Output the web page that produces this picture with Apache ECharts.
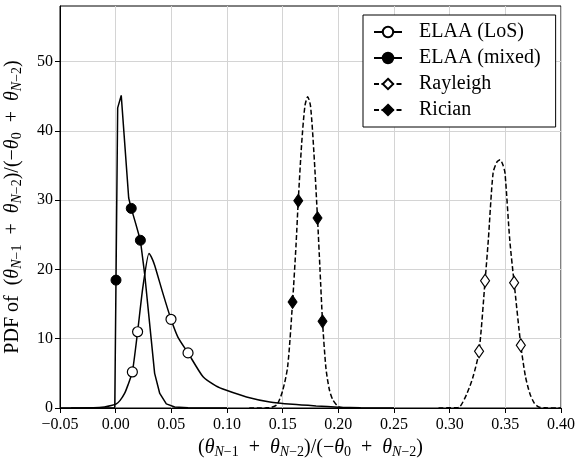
<!DOCTYPE html>
<html><head><meta charset="utf-8">
<script src="https://cdn.jsdelivr.net/npm/echarts@6/dist/echarts.min.js"></script>
<style>html,body{margin:0;padding:0;background:#fff}#c{width:577px;height:461px}</style>
</head><body><div id="c"></div>
<script>
const seriesNames = ['ELAA (LoS)', 'ELAA (mixed)', 'Rayleigh', 'Rician'];

const losX = [-0.04, -0.02, -0.01, -0.004, 0.0006, 0.004, 0.008, 0.011, 0.015, 0.0197, 0.0245, 0.0299, 0.032, 0.035, 0.0425, 0.0497, 0.056, 0.065, 0.0785, 0.09, 0.0995, 0.1175, 0.1385, 0.159, 0.18, 0.20, 0.22, 0.25];
const losY = [0, 0.03, 0.15, 0.35, 0.6, 1.1, 2.1, 3.3, 5.2, 11.0, 17.5, 22.3, 21.8, 20.6, 16.5, 12.8, 10.2, 7.95, 4.5, 3.2, 2.56, 1.6, 0.87, 0.53, 0.3, 0.12, 0.03, 0];
const losMarkers = [8, 9, 15, 17];

const mixX = [-0.05, -0.0008, 0.0003, 0.0018, 0.005, 0.0117, 0.014, 0.018, 0.0222, 0.026, 0.029, 0.032, 0.035, 0.0396, 0.0455, 0.053, 0.065, 0.10];
const mixY = [0, 0, 18.45, 43.3, 45.1, 30.3, 28.8, 26.6, 24.2, 19.4, 14.6, 9.8, 5.0, 2.1, 0.6, 0.15, 0.02, 0];
const mixMarkers = [2, 6, 8];

const rayX = [0.29, 0.305, 0.309, 0.3153, 0.321, 0.3264, 0.3318, 0.3347, 0.339, 0.3425, 0.3453, 0.348, 0.3497, 0.354, 0.3579, 0.3639, 0.368, 0.372, 0.376, 0.380, 0.386, 0.40];
const rayY = [0, 0.05, 0.15, 2.0, 4.5, 8.2, 18.35, 24.2, 33.9, 35.5, 35.8, 35.0, 33.9, 24.2, 18.06, 9.06, 4.6, 2.1, 0.7, 0.15, 0.02, 0];
const rayMarkers = [5, 6, 14, 15];

const ricX = [0.12, 0.135, 0.14, 0.145, 0.15, 0.1545, 0.1589, 0.162, 0.164, 0.167, 0.17, 0.1725, 0.175, 0.178, 0.1813, 0.1835, 0.1858, 0.1889, 0.192, 0.195, 0.2, 0.205, 0.22];
const ricY = [0, 0.02, 0.1, 0.5, 2.5, 6.0, 15.3, 23.5, 29.9, 38.0, 43.6, 44.9, 43.6, 37.0, 27.4, 20.1, 12.5, 5.7, 2.6, 1.2, 0.2, 0.03, 0];
const ricMarkers = [6, 8, 14, 16];

const xTickValues = [-0.05, 0.00, 0.05, 0.10, 0.15, 0.20, 0.25, 0.30, 0.35, 0.40];
const xTickLabels = ['−0.05', '0.00', '0.05', '0.10', '0.15', '0.20', '0.25', '0.30', '0.35', '0.40'];
const yTickValues = [0, 10, 20, 30, 40, 50];
const yTickLabels = ['0', '10', '20', '30', '40', '50'];

const FONT = 'Liberation Serif';

function build(xs, ys, marks) {
  return xs.map((x, i) => marks.includes(i) ? { value: [x, ys[i]] } : { value: [x, ys[i]], symbol: 'none' });
}
function lookup(vals, labels) {
  return v => { for (let i = 0; i < vals.length; i++) if (Math.abs(vals[i] - v) < 1e-6) return labels[i]; return ''; };
}

const expr = '{r|(}{i|θ}{si|N}{s|−1}{r|\u2002+\u2002}{i|θ}{si|N}{s|−2}{r|)/(−}{i|θ}{s|0}{r|\u2002+\u2002}{i|θ}{si|N}{s|−2}{r|)}';
const rich = {
  r: { fontFamily: FONT, fontSize: 20, lineHeight: 23, color: '#000' },
  i: { fontFamily: FONT, fontSize: 20, lineHeight: 23, fontStyle: 'italic', color: '#000' },
  s: { fontFamily: FONT, fontSize: 14, lineHeight: 9, verticalAlign: 'bottom', color: '#000' },
  si: { fontFamily: FONT, fontSize: 14, lineHeight: 9, verticalAlign: 'bottom', fontStyle: 'italic', color: '#000' }
};

const chart = echarts.init(document.getElementById('c'), null, { renderer: 'canvas' });
const lineW = 1.5;
chart.setOption({
  animation: false,
  backgroundColor: '#fff',
  grid: { left: 60, right: 16, top: 6, bottom: 53, show: true, borderColor: '#000', borderWidth: 1, backgroundColor: 'transparent', outerBoundsMode: 'none', containLabel: false },
  legend: {
    data: seriesNames,
    orient: 'vertical', left: 363, top: 15,
    backgroundColor: '#fff', borderColor: '#000', borderWidth: 1, borderRadius: 0,
    padding: [6, 15, 6, 10], itemGap: 4, itemWidth: 28, itemHeight: 13,
    textStyle: { fontFamily: FONT, fontSize: 20, color: '#000', lineHeight: 22, padding: [0, 0, 0, 12] }
  },
  xAxis: {
    type: 'value', min: -0.05, max: 0.40, interval: 0.05,
    name: expr, nameLocation: 'middle', nameGap: 19,
    nameTextStyle: { rich: rich },
    axisLine: { show: true, onZero: false, lineStyle: { color: '#000', width: 1 } },
    axisTick: { show: true, inside: false, length: 5, lineStyle: { color: '#000' } },
    axisLabel: { formatter: lookup(xTickValues, xTickLabels), fontFamily: FONT, fontSize: 16, color: '#000', margin: 9 },
    splitLine: { show: true, lineStyle: { color: '#d4d4d4', width: 1 } }
  },
  yAxis: {
    type: 'value', min: 0, max: 58, interval: 10,
    name: '{r|PDF of\u2002}' + expr, nameLocation: 'middle', nameGap: 36, nameRotate: 90,
    nameTextStyle: { rich: rich },
    axisLine: { show: true, onZero: false, lineStyle: { color: '#000', width: 1 } },
    axisTick: { show: true, inside: false, length: 5, lineStyle: { color: '#000' }, customValues: yTickValues },
    axisLabel: { formatter: lookup(yTickValues, yTickLabels), customValues: yTickValues, fontFamily: FONT, fontSize: 16, color: '#000', margin: 7 },
    splitLine: { show: true, lineStyle: { color: '#d4d4d4', width: 1 } }
  },
  series: [
    {
      name: seriesNames[0], type: 'line', data: build(losX, losY, losMarkers), smooth: 0.2,
      symbol: 'circle', symbolSize: 10, showAllSymbol: true,
      lineStyle: { color: '#000', width: lineW, type: 'solid' },
      itemStyle: { color: '#fff', borderColor: '#000', borderWidth: 1.2 }, z: 3
    },
    {
      name: seriesNames[1], type: 'line', data: build(mixX, mixY, mixMarkers), smooth: false,
      symbol: 'circle', symbolSize: 10, showAllSymbol: true,
      lineStyle: { color: '#000', width: lineW, type: 'solid' },
      itemStyle: { color: '#000', borderColor: '#000', borderWidth: 1 }, z: 3
    },
    {
      name: seriesNames[2], type: 'line', data: build(rayX, rayY, rayMarkers), smooth: 0.25,
      symbol: 'diamond', symbolSize: [9, 13], showAllSymbol: true,
      lineStyle: { color: '#000', width: lineW, type: [5, 2.5] },
      itemStyle: { color: '#fff', borderColor: '#000', borderWidth: 1.2 }, z: 3
    },
    {
      name: seriesNames[3], type: 'line', data: build(ricX, ricY, ricMarkers), smooth: 0.25,
      symbol: 'diamond', symbolSize: [9, 13], showAllSymbol: true,
      lineStyle: { color: '#000', width: lineW, type: [5, 2.5] },
      itemStyle: { color: '#000', borderColor: '#000', borderWidth: 1 }, z: 3
    }
  ]
});
</script></body></html>
